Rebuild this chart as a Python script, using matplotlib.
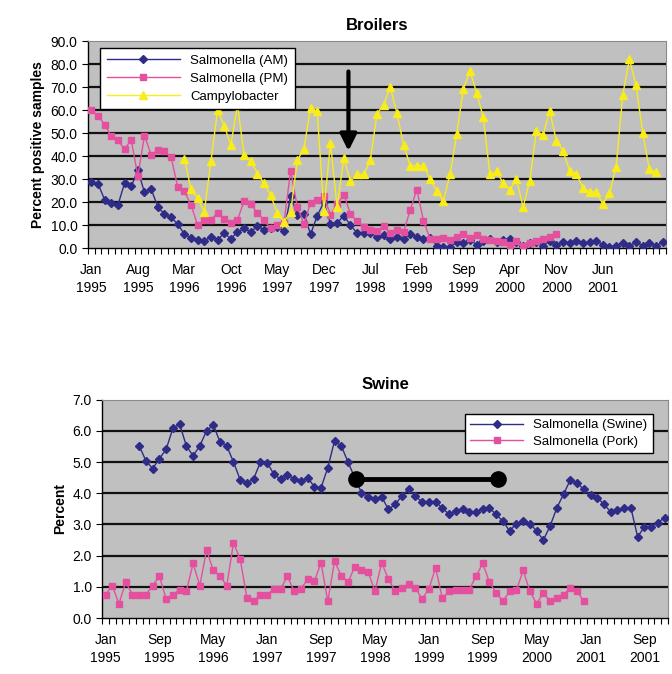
import matplotlib
matplotlib.use("Agg")
import matplotlib.pyplot as plt
import numpy as np

plt.rcParams['font.family'] = ['Liberation Sans', 'DejaVu Sans']

# ---- Broilers (monthly, Jan 1995 onwards) ----
broiler_months = 87
broiler_labels = ["Jan\n1995", "Aug\n1995", "Mar\n1996", "Oct\n1996", "May\n1997", "Dec\n1997",
                  "Jul\n1998", "Feb\n1999", "Sep\n1999", "Apr\n2000", "Nov\n2000", "Jun\n2001"]

salm_am = [28.7, 28.0, 21.0, 19.6, 18.7, 28.2, 26.8, 33.8, 24.2, 25.6, 18.0, 14.6, 13.3, 10.5,
           6.0, 4.5, 3.5, 3.0, 5.0, 3.5, 6.5, 4.0, 7.0, 8.5, 7.0, 9.5, 8.0, 8.5, 9.0, 7.5,
           22.5, 14.5, 15.0, 6.0, 14.0, 20.0, 10.5, 11.0, 14.0, 10.0, 6.5, 6.5, 6.5, 5.0, 5.5,
           4.0, 5.0, 4.0, 6.0, 5.0, 4.0, 4.5, 1.0, 0.5, 0.5, 2.5, 2.0, 3.5, 1.5, 3.0, 4.0, 2.5,
           3.5, 4.0, 2.5, 1.0, 2.0, 2.5, 1.0, 3.0, 1.5, 2.5, 2.0, 3.0, 2.0, 2.5, 3.0, 1.5, 0.5,
           1.0, 2.0, 1.0, 2.5, 1.0, 2.0, 1.0, 2.5]
salm_pm = [60.0, 57.5, 53.7, 48.6, 46.8, 43.0, 47.0, 31.3, 48.9, 40.5, 42.5, 42.0, 39.5, 26.6,
           24.7, 18.7, 10.0, 12.0, 12.2, 15.4, 12.5, 10.9, 12.2, 20.6, 19.1, 15.3, 12.0, 8.5,
           10.0, 11.0, 33.7, 18.0, 10.5, 19.6, 20.8, 22.5, 14.5, 19.0, 23.2, 15.0, 11.6, 9.0,
           8.0, 7.5, 9.5, 6.5, 8.0, 7.0, 16.5, 25.4, 11.8, 4.0, 4.0, 4.5, 3.5, 5.0, 6.0, 4.5,
           5.5, 4.0, 3.5, 3.0, 2.5, 1.5, 3.0, 1.0, 2.0, 3.0, 4.0, 5.0, 6.0]
campy_start = 14
campy = [38.9, 25.6, 21.6, 15.7, 37.7, 60.0, 53.2, 44.8, 62.2, 40.4, 37.8, 32.4, 28.2, 22.9,
         15.2, 11.4, 15.6, 38.1, 43.2, 61.1, 59.4, 16.3, 45.7, 17.8, 39.1, 29.0, 32.0, 32.0,
         38.1, 58.4, 62.4, 70.0, 58.6, 45.0, 35.8, 35.8, 35.8, 29.9, 24.8, 20.6, 32.0, 49.5,
         69.1, 77.1, 67.5, 56.8, 32.0, 33.3, 28.2, 25.4, 29.9, 17.8, 29.2, 51.0, 49.2, 59.6,
         46.7, 42.2, 33.7, 32.4, 26.1, 24.4, 24.4, 19.1, 23.9, 35.3, 66.6, 82.2, 70.8, 50.1,
         34.3, 33.0]
arrow_month, arrow_from, arrow_to = 38.7, 78.0, 41.0

# ---- Swine (monthly, Jan 1995 onwards) ----
swine_months = 84
swine_labels = ["Jan\n1995", "Sep\n1995", "May\n1996", "Jan\n1997", "Sep\n1997", "May\n1998",
                "Jan\n1999", "Sep\n1999", "May\n2000", "Jan\n2001", "Sep\n2001"]
swine_start = 5
salm_swine = [5.52, 5.04, 4.79, 5.11, 5.41, 6.08, 6.22, 5.52, 5.20, 5.52, 6.00, 6.19, 5.65,
              5.52, 5.00, 4.43, 4.32, 4.47, 5.00, 4.98, 4.61, 4.45, 4.58, 4.47, 4.40, 4.50,
              4.21, 4.18, 4.82, 5.68, 5.52, 5.00, 4.50, 4.02, 3.89, 3.83, 3.89, 3.48, 3.65,
              3.91, 4.13, 3.91, 3.72, 3.72, 3.72, 3.53, 3.32, 3.43, 3.48, 3.40, 3.40, 3.48,
              3.53, 3.32, 3.10, 2.79, 3.03, 3.10, 3.03, 2.79, 2.50, 2.95, 3.53, 3.97, 4.43,
              4.32, 4.13, 3.93, 3.86, 3.65, 3.40, 3.46, 3.53, 3.53, 2.60, 2.93, 2.93, 3.06, 3.22]
salm_pork = [0.75, 1.04, 0.46, 1.15, 0.75, 0.75, 0.75, 1.04, 1.34, 0.61, 0.75, 0.91, 0.86,
             1.75, 1.04, 2.18, 1.53, 1.34, 1.04, 2.41, 1.88, 0.64, 0.54, 0.75, 0.75, 0.93,
             0.93, 1.34, 0.86, 0.93, 1.25, 1.18, 1.77, 0.54, 1.82, 1.36, 1.15, 1.64, 1.53,
             1.47, 0.86, 1.77, 1.25, 0.86, 0.96, 1.10, 0.96, 0.61, 0.93, 1.61, 0.64, 0.86,
             0.89, 0.91, 0.91, 1.34, 1.75, 1.15, 0.80, 0.54, 0.86, 0.89, 1.53, 0.86, 0.46,
             0.80, 0.54, 0.64, 0.75, 0.96, 0.86, 0.54]
bar_months, bar_level = (37.2, 58.3), 4.45

NAVY = '#2E2C86'
PINK = '#E4509E'
YELLOW = '#F8EC1A'
BG = '#C0C0C0'


def style_axes(ax, n_months, labels, step, ymax, ystep):
    ax.set_facecolor(BG)
    ax.set_xlim(-0.5, n_months - 0.5)
    ax.set_ylim(0, ymax)
    ax.set_yticks(np.arange(0, ymax + 0.01, ystep))
    ax.yaxis.set_major_formatter(matplotlib.ticker.FormatStrFormatter('%.1f'))
    ax.set_xticks(np.arange(0, step * len(labels), step))
    ax.set_xticklabels(labels, fontsize=10, linespacing=1.3)
    ax.set_xticks(np.arange(-0.5, n_months, 1), minor=True)
    ax.tick_params(axis='x', which='major', length=0, pad=11)
    ax.tick_params(axis='x', which='minor', length=4, width=0.8, direction='out')
    ax.tick_params(axis='y', labelsize=10, length=4, direction='out')
    for y in np.arange(ystep, ymax, ystep):
        ax.axhline(y, color='#111111', linewidth=1.6, zorder=1)
    for side in ['top', 'right']:
        ax.spines[side].set_color('#8a8a8a')
    ax.spines['left'].set_linewidth(1.0)
    ax.spines['bottom'].set_linewidth(1.0)


fig = plt.figure(figsize=(6.72, 6.74), dpi=100)

# Broilers
ax1 = fig.add_axes([0.131, 0.632, 0.860, 0.307])
style_axes(ax1, broiler_months, broiler_labels, 7, 90, 10)
m_am = np.arange(len(salm_am))
m_pm = np.arange(len(salm_pm))
m_campy = np.arange(campy_start, campy_start + len(campy))
ax1.plot(m_am, salm_am, color=NAVY, marker='D', markersize=4, linewidth=1, label='Salmonella (AM)', zorder=3)
ax1.plot(m_pm, salm_pm, color=PINK, marker='s', markersize=5, linewidth=1, label='Salmonella (PM)', zorder=3)
ax1.plot(m_campy, campy, color=YELLOW, marker='^', markersize=6, linewidth=1, label='Campylobacter', zorder=4)
ax1.annotate('', xy=(arrow_month, arrow_to), xytext=(arrow_month, arrow_from),
             arrowprops=dict(arrowstyle='-|>', color='black', lw=3, mutation_scale=25), zorder=5)
ax1.set_title('Broilers', fontsize=12, fontweight='bold', pad=8)
ax1.set_ylabel('Percent positive samples', fontsize=10, fontweight='bold')
leg1 = ax1.legend(loc='upper left', bbox_to_anchor=(0.01, 1.0), fontsize=9.5, frameon=True,
                  fancybox=False, edgecolor='black', framealpha=1, borderpad=0.5,
                  handlelength=5.5, labelspacing=0.45)
leg1.get_frame().set_linewidth(1.0)
leg1.set_zorder(6)

# Swine
ax2 = fig.add_axes([0.152, 0.083, 0.842, 0.324])
style_axes(ax2, swine_months, swine_labels, 8, 7, 1)
m_swine = np.arange(swine_start, swine_start + len(salm_swine))
m_pork = np.arange(len(salm_pork))
ax2.plot(m_swine, salm_swine, color=NAVY, marker='D', markersize=4.5, linewidth=1, label='Salmonella (Swine)', zorder=3)
ax2.plot(m_pork, salm_pork, color=PINK, marker='s', markersize=5, linewidth=1, label='Salmonella (Pork)', zorder=3)
ax2.plot(bar_months, [bar_level, bar_level], color='black', linewidth=3.5, marker='o',
         markersize=11, zorder=5)
ax2.set_title('Swine', fontsize=12, fontweight='bold', pad=8)
ax2.set_ylabel('Percent', fontsize=10, fontweight='bold')
leg2 = ax2.legend(loc='upper right', bbox_to_anchor=(0.985, 0.965), fontsize=9.5, frameon=True,
                  fancybox=False, edgecolor='black', framealpha=1, borderpad=0.4,
                  handlelength=4, labelspacing=0.3)
leg2.get_frame().set_linewidth(1.0)

fig.savefig('out.png', dpi=100, facecolor='white')
